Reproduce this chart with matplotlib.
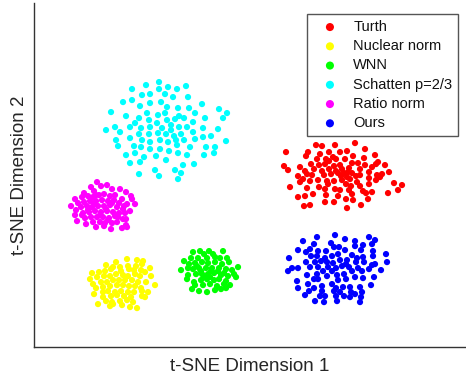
import matplotlib
matplotlib.use("Agg")
import matplotlib.pyplot as plt

# t-SNE embeddings (x, y)
turth_pts = [
    (282, 202), (288, 201), (301, 202), (321, 204), (331, 198),
    (252, 195), (274, 195), (272, 191), (286, 193), (295, 195), (306, 195), (313, 196), (299, 190), (302, 188),
    (311, 188), (319, 191), (330, 189), (341, 192),
    (283, 188), (292, 188), (295, 186), (306, 182), (318, 184), (324, 184), (331, 182), (342, 183), (344, 185), (351, 182),
    (250, 181), (266, 180), (277, 183), (285, 182), (291, 183), (300, 181), (308, 178), (315, 179), (326, 178), (338, 180),
    (254, 177), (271, 176), (280, 178), (288, 176), (295, 178), (302, 176), (310, 174), (314, 175), (318, 174), (326, 172),
    (335, 175), (348, 173), (355, 175),
    (264, 171), (273, 173), (278, 172), (290, 172), (297, 173), (304, 174), (307, 171), (313, 170), (322, 171), (343, 172),
    (266, 165), (269, 168), (276, 166), (284, 167), (293, 166), (300, 166), (308, 167), (316, 168), (323, 165), (335, 169),
    (346, 170),
    (256, 160), (273, 159), (285, 160), (294, 163), (312, 163), (317, 161), (326, 161), (335, 163), (342, 167), (360, 164),
    (368, 162),
    (291, 158), (301, 158), (306, 157), (315, 157), (329, 156), (338, 155), (354, 154), (364, 157),
    (264, 150), (271, 151), (279, 153), (292, 152), (304, 151), (318, 153), (332, 154),
    (291, 145), (300, 145), (312, 148), (319, 147), (334, 148),
    (270, 141), (276, 142), (313, 139), (327, 142),
]

nuclear_pts = [
    (93, 88), (82, 85), (103, 87), (109, 86), (72, 82), (79, 80), (86, 80), (94, 81), (102, 81), (108, 83),
    (58, 74), (65, 75), (71, 76), (77, 78), (87, 76), (95, 78), (100, 77), (107, 77), (111, 75), (116, 79),
    (56, 68), (63, 70), (70, 71), (76, 71), (82, 73), (89, 72), (94, 71), (101, 73), (106, 71), (117, 71),
    (59, 63), (67, 65), (73, 65), (79, 67), (85, 67), (91, 67), (98, 67), (104, 65), (112, 65),
    (62, 59), (69, 60), (76, 61), (83, 62), (89, 62), (95, 61), (101, 61), (107, 59), (121, 62),
    (60, 53), (69, 55), (74, 56), (81, 55), (87, 56), (94, 55), (100, 55), (108, 56), (114, 55),
    (69, 50), (77, 51), (83, 52), (90, 51), (97, 50), (108, 51), (111, 50),
    (64, 43), (72, 46), (78, 45), (86, 46), (93, 47), (99, 45), (79, 43),
    (76, 41), (88, 42), (96, 40), (103, 39),
]

wnn_pts = [
    (159, 95), (166, 96), (175, 96), (189, 96), (170, 93), (179, 93),
    (157, 89), (164, 89), (173, 89), (181, 90), (186, 89), (193, 89), (150, 86),
    (155, 83), (161, 84), (168, 85), (174, 84), (181, 85), (188, 83), (195, 85), (204, 80),
    (147, 77), (154, 79), (159, 78), (165, 79), (172, 79), (178, 79), (185, 79), (192, 78), (198, 77),
    (154, 72), (162, 73), (168, 73), (174, 73), (180, 74), (187, 72), (194, 71), (200, 73),
    (153, 68), (160, 65), (167, 67), (173, 68), (180, 67), (185, 68), (192, 66), (202, 70),
    (161, 62), (169, 62), (176, 63), (183, 61), (190, 63), (196, 62),
    (158, 58), (165, 56), (173, 55), (181, 57), (187, 58), (192, 59),
    (170, 70), (177, 76), (163, 81), (184, 76), (176, 70), (167, 76), (190, 74),
]

schatten_pts = [
    (125, 265), (112, 262), (134, 260), (143, 258), (152, 261), (98, 258), (125, 258),
    (108, 252), (116, 253), (131, 253), (139, 250), (154, 250),
    (89, 245), (98, 247), (116, 244), (127, 245), (106, 241), (133, 240), (144, 239), (168, 243),
    (77, 235), (92, 231), (113, 234), (124, 232), (131, 234), (145, 231), (155, 239), (161, 234), (185, 238), (193, 234),
    (101, 224), (105, 229), (115, 227), (123, 224), (133, 227), (141, 228), (150, 229), (159, 225), (171, 229), (189, 229),
    (72, 217), (81, 220), (86, 215), (96, 220), (107, 219), (116, 220), (128, 219), (137, 222), (137, 217), (145, 220),
    (153, 220), (159, 215), (169, 219), (184, 218),
    (96, 209), (105, 213), (115, 213), (124, 214), (132, 213), (140, 211), (147, 213),
    (82, 207), (108, 207), (116, 205), (126, 207), (134, 205), (142, 207), (150, 207), (161, 208), (169, 210), (177, 211),
    (192, 206),
    (84, 201), (100, 201), (107, 200), (116, 198), (126, 198), (135, 196), (143, 202), (156, 200), (172, 200), (181, 200),
    (92, 192), (101, 194), (110, 190), (122, 191), (132, 187), (144, 194), (153, 192), (170, 192), (180, 194),
    (96, 184), (106, 185), (149, 182), (160, 183),
    (105, 173), (121, 177), (125, 171), (141, 177), (147, 174), (144, 168),
]

ratio_pts = [
    (63, 165), (67, 161), (73, 162), (57, 160), (78, 158), (86, 158), (92, 155), (50, 154), (60, 156),
    (41, 148), (48, 150), (54, 151), (59, 150), (65, 152), (70, 153), (76, 151), (81, 152), (88, 148), (97, 151), (98, 148),
    (37, 141), (44, 144), (50, 145), (56, 146), (62, 146), (68, 147), (74, 146), (80, 147), (85, 144), (93, 143), (101, 143),
    (42, 137), (47, 140), (53, 141), (58, 140), (64, 141), (70, 141), (76, 142), (83, 140), (89, 138), (96, 136),
    (41, 132), (49, 134), (55, 135), (61, 136), (67, 135), (73, 136), (79, 135), (85, 134), (91, 134),
    (43, 126), (51, 129), (57, 130), (63, 130), (69, 130), (75, 129), (81, 131), (89, 128), (92, 128),
    (52, 123), (59, 125), (66, 125), (71, 124), (78, 124), (83, 125), (92, 122),
    (62, 120), (70, 121), (77, 118), (88, 119), (93, 120),
    (60, 143), (72, 138), (66, 132), (78, 144), (54, 137), (84, 130), (48, 132), (90, 141), (62, 152), (74, 127),
]

ours_pts = [
    (301, 112), (283, 110), (311, 108), (321, 106), (335, 110), (341, 107),
    (269, 106), (280, 103), (297, 104), (305, 100), (329, 102), (321, 101), (338, 103),
    (264, 97), (272, 95), (276, 98), (284, 96), (292, 96), (300, 100), (311, 97), (327, 97), (339, 96), (352, 93),
    (255, 89), (277, 91), (283, 91), (291, 89), (298, 91), (304, 93), (313, 87), (318, 92), (323, 89), (329, 90), (339, 91),
    (272, 85), (281, 85), (287, 86), (293, 85), (299, 84), (306, 87), (312, 83), (322, 85), (330, 85), (338, 82), (353, 85),
    (254, 76), (258, 79), (264, 79), (276, 80), (284, 80), (294, 80), (302, 79), (308, 81), (315, 80), (324, 79), (335, 78),
    (341, 83), (347, 77),
    (273, 72), (283, 73), (289, 76), (298, 76), (303, 72), (310, 73), (318, 76), (328, 76),
    (263, 66), (280, 68), (284, 68), (293, 71), (304, 67), (312, 68), (321, 70), (329, 69), (340, 70),
    (264, 59), (274, 63), (280, 59), (288, 61), (298, 63), (302, 59), (309, 60), (316, 60), (326, 60), (337, 62),
    (271, 52), (275, 56), (288, 56), (300, 56), (306, 55), (317, 55), (321, 53), (328, 55),
    (286, 51), (291, 51), (302, 51), (310, 51), (316, 50), (327, 50),
    (281, 46), (290, 45), (303, 46), (326, 45),
]

labels = ["Turth", "Nuclear norm", "WNN", "Schatten p=2/3", "Ratio norm", "Ours"]
colors = ["#ff0000", "#ffff00", "#00ff00", "#00ffff", "#ff00ff", "#0000ff"]
groups = [turth_pts, nuclear_pts, wnn_pts, schatten_pts, ratio_pts, ours_pts]

plt.rcParams['font.family'] = ['Liberation Sans', 'DejaVu Sans']

fig = plt.figure(figsize=(4.66, 3.81), dpi=100)
ax = fig.add_axes([0.073, 0.089, 0.927, 0.903])

for pts, col, lab in zip(groups, colors, labels):
    xs = [p[0] for p in pts]
    ys = [p[1] for p in pts]
    ax.scatter(xs, ys, s=20, c=col, edgecolors='none', label=lab)

ax.set_xlim(0, 432)
ax.set_ylim(0, 344)
ax.set_xticks([])
ax.set_yticks([])
for side in ['top', 'right']:
    ax.spines[side].set_visible(False)
for side in ['left', 'bottom']:
    ax.spines[side].set_color('#333333')
    ax.spines[side].set_linewidth(1.0)

ax.set_xlabel("t-SNE Dimension 1", fontsize=13.5, color='#262626', labelpad=8)
ax.set_ylabel("t-SNE Dimension 2", fontsize=13.5, color='#262626', labelpad=4)

leg = ax.legend(loc='upper right', bbox_to_anchor=(0.982, 0.968), borderaxespad=0,
                fontsize=10.5, fancybox=False, framealpha=1, edgecolor='#555555',
                handlelength=2.3, handletextpad=0.45, labelspacing=0.36, borderpad=0.4,
                scatterpoints=1, markerscale=1.3)
leg.get_frame().set_linewidth(1.0)
for t in leg.get_texts():
    t.set_color('#111111')

fig.savefig("out.png", dpi=100)
